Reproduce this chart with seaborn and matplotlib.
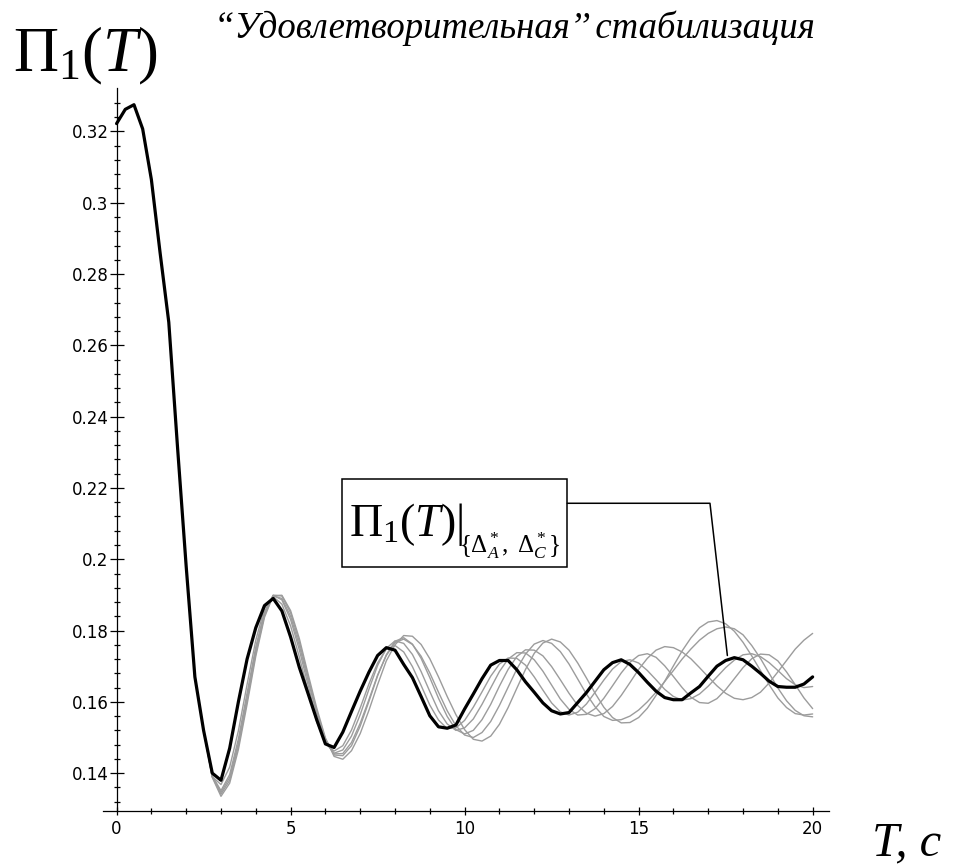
import numpy as np
import pandas as pd
import matplotlib
matplotlib.use("Agg")
import matplotlib.pyplot as plt
import seaborn as sns
from matplotlib.ticker import FixedLocator, FuncFormatter
from matplotlib.patches import Rectangle

# ---------------- data ----------------
t_values = np.round(np.arange(0, 20.001, 0.25), 2)

# black curve Pi_1(T) for {Delta*_A, Delta*_C}
black_curve = [
    0.3222, 0.3262, 0.3275, 0.3207, 0.3065, 0.2860, 0.2665, 0.2316, 0.1980, 0.1670,
    0.1520, 0.1400, 0.1380, 0.1470, 0.1600, 0.1720, 0.1808, 0.1870, 0.1890, 0.1855,
    0.1782, 0.1697, 0.1624, 0.1550, 0.1482, 0.1472, 0.1515, 0.1573, 0.1630, 0.1683,
    0.1730, 0.1752, 0.1745, 0.1705, 0.1668, 0.1615, 0.1561, 0.1530, 0.1526, 0.1535,
    0.1580, 0.1622, 0.1665, 0.1703, 0.1716, 0.1716, 0.1690, 0.1656, 0.1627, 0.1597,
    0.1575, 0.1566, 0.1570, 0.1598, 0.1626, 0.1658, 0.1690, 0.1710, 0.1718, 0.1705,
    0.1682, 0.1655, 0.1630, 0.1612, 0.1606, 0.1606, 0.1625, 0.1643, 0.1672, 0.1700,
    0.1716, 0.1724, 0.1718, 0.1700, 0.1680, 0.1658, 0.1643, 0.1641, 0.1641, 0.1650,
    0.1670,
]

# common beginning of the grey curves (T = 0 .. 2.5)
grey_head = [0.3222, 0.3262, 0.3275, 0.3207, 0.3065, 0.2860, 0.2665, 0.2316, 0.1980, 0.1670, 0.1520]

# grey curves, T = 2.75 .. 20
grey_1 = [
    0.1390, 0.1368, 0.1417, 0.1519, 0.1649, 0.1773, 0.1863, 0.1895, 0.1874, 0.1813,
    0.1726, 0.1631, 0.1544, 0.1484, 0.1462, 0.1477, 0.1521, 0.1583, 0.1650, 0.1709,
    0.1748, 0.1758, 0.1740, 0.1699, 0.1646, 0.1591, 0.1549, 0.1525, 0.1527, 0.1548,
    0.1585, 0.1628, 0.1672, 0.1706, 0.1723, 0.1722, 0.1703, 0.1670, 0.1633, 0.1597,
    0.1572, 0.1563, 0.1571, 0.1594, 0.1627, 0.1661, 0.1692, 0.1713, 0.1718, 0.1709,
    0.1688, 0.1662, 0.1635, 0.1615, 0.1605, 0.1609, 0.1622, 0.1644, 0.1670, 0.1696,
    0.1717, 0.1732, 0.1735, 0.1727, 0.1710, 0.1688, 0.1665, 0.1648, 0.1640, 0.1643,
]
grey_2 = [
    0.1392, 0.1351, 0.1396, 0.1496, 0.1625, 0.1754, 0.1853, 0.1899, 0.1886, 0.1831,
    0.1746, 0.1648, 0.1553, 0.1486, 0.1456, 0.1465, 0.1504, 0.1564, 0.1635, 0.1702,
    0.1750, 0.1771, 0.1764, 0.1733, 0.1685, 0.1629, 0.1575, 0.1538, 0.1520, 0.1527,
    0.1552, 0.1593, 0.1639, 0.1685, 0.1720, 0.1738, 0.1737, 0.1718, 0.1686, 0.1647,
    0.1608, 0.1579, 0.1563, 0.1565, 0.1581, 0.1610, 0.1645, 0.1681, 0.1711, 0.1730,
    0.1735, 0.1725, 0.1701, 0.1671, 0.1640, 0.1613, 0.1598, 0.1596, 0.1609, 0.1634,
    0.1665, 0.1696, 0.1721, 0.1734, 0.1732, 0.1715, 0.1684, 0.1648, 0.1611, 0.1581,
]
grey_3 = [
    0.1390, 0.1341, 0.1380, 0.1476, 0.1604, 0.1736, 0.1843, 0.1899, 0.1897, 0.1850,
    0.1769, 0.1670, 0.1574, 0.1496, 0.1451, 0.1449, 0.1477, 0.1532, 0.1601, 0.1673,
    0.1732, 0.1770, 0.1780, 0.1762, 0.1722, 0.1668, 0.1610, 0.1559, 0.1522, 0.1510,
    0.1520, 0.1550, 0.1593, 0.1644, 0.1691, 0.1727, 0.1746, 0.1745, 0.1729, 0.1699,
    0.1662, 0.1624, 0.1590, 0.1568, 0.1560, 0.1567, 0.1587, 0.1618, 0.1654, 0.1691,
    0.1722, 0.1745, 0.1755, 0.1752, 0.1740, 0.1721, 0.1696, 0.1670, 0.1645, 0.1624,
    0.1610, 0.1606, 0.1612, 0.1627, 0.1653, 0.1684, 0.1716, 0.1748, 0.1773, 0.1792,
]
grey_4 = [
    0.1388, 0.1335, 0.1372, 0.1466, 0.1593, 0.1728, 0.1837, 0.1898, 0.1899, 0.1856,
    0.1778, 0.1679, 0.1583, 0.1499, 0.1447, 0.1439, 0.1463, 0.1511, 0.1576, 0.1648,
    0.1715, 0.1760, 0.1786, 0.1784, 0.1761, 0.1721, 0.1670, 0.1615, 0.1564, 0.1522,
    0.1495, 0.1490, 0.1504, 0.1537, 0.1584, 0.1638, 0.1691, 0.1736, 0.1765, 0.1776,
    0.1768, 0.1745, 0.1709, 0.1667, 0.1624, 0.1585, 0.1556, 0.1541, 0.1542, 0.1556,
    0.1582, 0.1618, 0.1658, 0.1701, 0.1743, 0.1779, 0.1808, 0.1824, 0.1828, 0.1819,
    0.1798, 0.1767, 0.1729, 0.1688, 0.1648, 0.1611, 0.1584, 0.1567, 0.1563, 0.1566,
]
grey_5 = [
    0.1390, 0.1346, 0.1388, 0.1484, 0.1611, 0.1745, 0.1845, 0.1897, 0.1890, 0.1840,
    0.1758, 0.1661, 0.1567, 0.1493, 0.1454, 0.1455, 0.1486, 0.1540, 0.1606, 0.1675,
    0.1730, 0.1766, 0.1776, 0.1761, 0.1728, 0.1681, 0.1627, 0.1575, 0.1533, 0.1507,
    0.1500, 0.1514, 0.1545, 0.1590, 0.1641, 0.1692, 0.1734, 0.1762, 0.1772, 0.1764,
    0.1741, 0.1706, 0.1664, 0.1622, 0.1586, 0.1559, 0.1548, 0.1550, 0.1560, 0.1577,
    0.1600, 0.1627, 0.1657, 0.1688, 0.1720, 0.1748, 0.1773, 0.1792, 0.1805, 0.1810,
    0.1805, 0.1788, 0.1758, 0.1722, 0.1680, 0.1639, 0.1603, 0.1576, 0.1561, 0.1558,
]
grey_tails = {"g1": grey_1, "g2": grey_2, "g3": grey_3, "g4": grey_4, "g5": grey_5}

x_major = [0, 5, 10, 15, 20]
y_major = [0.14, 0.16, 0.18, 0.2, 0.22, 0.24, 0.26, 0.28, 0.3, 0.32]

title_text = "\u201cУдовлетворительная\u2019\u2019 стабилизация"
ylabel_text = r"$\Pi_1(T)$"
xlabel_text = "T, c"
box_main_text = r"$\Pi_1(T)|$"
box_sub_text = r"$\{\Delta^*_A,\ \Delta^*_C\}$"

# ---------------- long-form table ----------------
rows = []
for name, tail in grey_tails.items():
    vals = grey_head + tail
    assert len(vals) == len(t_values), (name, len(vals))
    rows.append(pd.DataFrame({"T": t_values, "value": vals, "curve": name}))
df_grey = pd.concat(rows, ignore_index=True)
assert len(black_curve) == len(t_values)
df_black = pd.DataFrame({"T": t_values, "value": black_curve, "curve": "main"})

# ---------------- figure ----------------
sns.set_style("white")
plt.rcParams.update({
    "font.family": ["DejaVu Sans"],
    "text.color": "black",
    "xtick.color": "black",
    "ytick.color": "black",
    "mathtext.fontset": "custom",
    "mathtext.rm": "Liberation Serif",
    "mathtext.it": "Liberation Serif:italic",
    "mathtext.bf": "Liberation Serif:bold",
})

W, H = 962, 866
fig = plt.figure(figsize=(W / 100, H / 100), dpi=100)
fig.patch.set_facecolor("white")

x_lo, x_hi = -0.39, 20.47
y_lo, y_hi = 0.1293, 0.3321
ax = fig.add_axes([103 / W, (H - 811.3) / H, 726 / W, 723 / H])
ax.set_facecolor("white")

sns.lineplot(data=df_grey, x="T", y="value", units="curve", estimator=None,
             color="#9c9c9c", linewidth=1.0, ax=ax, legend=False, sort=False)
sns.lineplot(data=df_black, x="T", y="value", estimator=None,
             color="black", linewidth=2.3, ax=ax, legend=False, sort=False)

ax.set_xlim(x_lo, x_hi)
ax.set_ylim(y_lo, y_hi)
ax.set_xlabel("")
ax.set_ylabel("")

for s in ("top", "right"):
    ax.spines[s].set_visible(False)
ax.spines["left"].set_position(("data", 0))
for s in ("left", "bottom"):
    ax.spines[s].set_color("black")
    ax.spines[s].set_linewidth(0.9)

ax.xaxis.set_major_locator(FixedLocator(x_major))
ax.xaxis.set_minor_locator(FixedLocator([v for v in range(1, 20) if v % 5 != 0]))
ax.yaxis.set_major_locator(FixedLocator(y_major))
y_minor = [round(0.132 + 0.004 * k, 3) for k in range(50)]
y_minor = [v for v in y_minor if v <= 0.3285 and min(abs(v - m) for m in y_major) > 1e-6]
ax.yaxis.set_minor_locator(FixedLocator(y_minor))
ax.yaxis.set_major_formatter(FuncFormatter(lambda v, p: f"{v:g}"))
ax.xaxis.set_major_formatter(FuncFormatter(lambda v, p: f"{v:g}"))

ax.tick_params(which="both", bottom=True, left=True, top=False, right=False)
ax.tick_params(axis="x", which="major", direction="inout", length=6, width=0.9,
               labelsize=12, pad=3.5, colors="black")
ax.tick_params(axis="x", which="minor", direction="inout", length=4.5, width=0.9,
               colors="black")
ax.tick_params(axis="y", which="major", direction="inout", length=9.5, width=0.9,
               labelsize=12, pad=1.0, colors="black")
ax.tick_params(axis="y", which="minor", direction="inout", length=5, width=0.9,
               colors="black")

# ---------------- annotation box and leader ----------------
box_x0, box_x1 = 6.49, 12.95
box_y0, box_y1 = 0.1978, 0.2225
leader_y = 0.2157
elbow_x = 17.05
target_x, target_y = 17.55, 0.1730
ax.add_patch(Rectangle((box_x0, box_y0), box_x1 - box_x0, box_y1 - box_y0,
                       fill=True, facecolor="white", edgecolor="black",
                       linewidth=1.1, clip_on=False, zorder=5))
ax.plot([box_x1, elbow_x, target_x], [leader_y, leader_y, target_y],
        color="black", linewidth=1.1, clip_on=False, zorder=5)

def px(x, y):
    return x / W, 1 - y / H

fig.text(*px(349, 536), box_main_text, fontsize=33, ha="left", va="baseline", zorder=6)
fig.text(*px(459, 553), box_sub_text, fontsize=18, ha="left", va="baseline", zorder=6)

# ---------------- texts ----------------
fig.text(*px(13, 71), ylabel_text, fontsize=45, ha="left", va="baseline")
fig.text(*px(514, 38), title_text, fontsize=26.5, ha="center", va="baseline",
         family=["Liberation Serif", "DejaVu Serif"], style="italic")
fig.text(*px(872, 855), xlabel_text, fontsize=35, ha="left", va="baseline",
         family=["Liberation Serif", "DejaVu Serif"], style="italic")

fig.savefig("out.png", dpi=100, facecolor="white")
